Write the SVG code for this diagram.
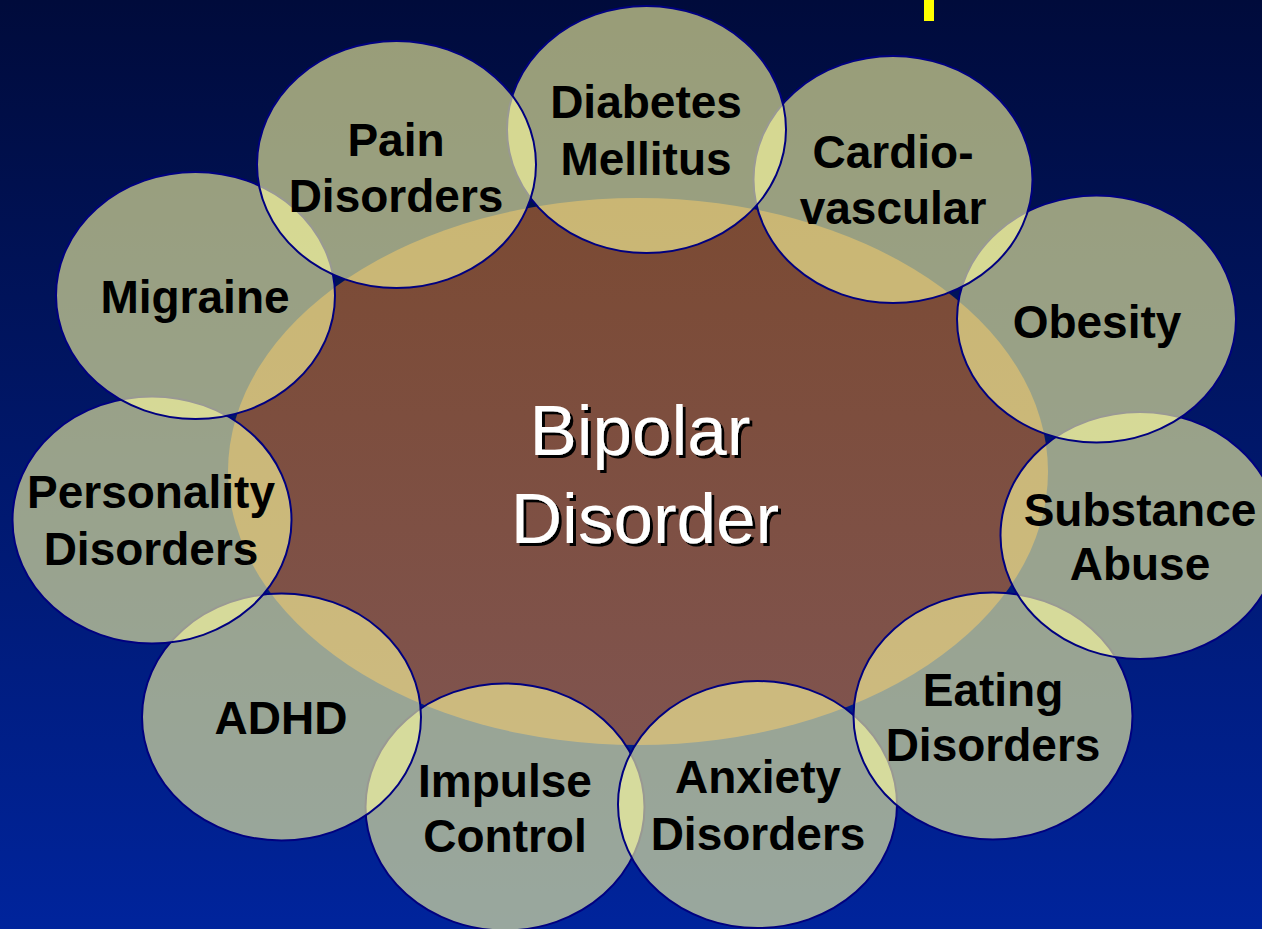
<svg xmlns="http://www.w3.org/2000/svg" width="1262" height="929" viewBox="0 0 1262 929">
<defs>
<linearGradient id="bg" x1="0" y1="0" x2="0" y2="1">
<stop offset="0" stop-color="#000b3b"/>
<stop offset="1" stop-color="#00249c"/>
</linearGradient>
<linearGradient id="core" x1="0" y1="0" x2="0" y2="1">
<stop offset="0" stop-color="#7b4a33"/>
<stop offset="1" stop-color="#80544f"/>
</linearGradient>
<filter id="shadow" x="-10%" y="-20%" width="120%" height="140%">
<feDropShadow dx="3" dy="3" stdDeviation="0.4" flood-color="#000" flood-opacity="1"/>
</filter>
<style>
.sat{fill:#ffffa0;fill-opacity:0.6;stroke:#000080;stroke-width:2}
.lbl{font-family:"Liberation Sans",Arial,sans-serif;font-weight:bold;font-size:46px;fill:#000;text-anchor:middle}
.big{font-family:"Liberation Sans",Arial,sans-serif;font-size:71px;text-anchor:middle;fill:#fff;filter:url(#shadow)}
</style>
</defs>
<rect x="0" y="0" width="1262" height="929" fill="url(#bg)"/>
<rect x="924" y="0" width="10" height="21" fill="#ffff00"/>
<g id="bipolar">
<ellipse cx="638" cy="471.5" rx="410" ry="273.5" fill="url(#core)"/>
</g>
<g id="impulse"><ellipse class="sat" cx="505" cy="807" rx="139.5" ry="123.5"/></g>
<g id="anxiety"><ellipse class="sat" cx="757.5" cy="804.5" rx="139.5" ry="123.5"/></g>
<g id="eating"><ellipse class="sat" cx="993" cy="716" rx="139.5" ry="123.5"/></g>
<g id="substance"><ellipse class="sat" cx="1140" cy="535.5" rx="139.5" ry="123.5"/></g>
<g id="obesity"><ellipse class="sat" cx="1096.5" cy="319" rx="139.5" ry="123.5"/></g>
<g id="cardio"><ellipse class="sat" cx="893" cy="179.5" rx="139.5" ry="123.5"/></g>
<g id="diabetes"><ellipse class="sat" cx="646.5" cy="129.5" rx="139.5" ry="123.5"/></g>
<g id="adhd"><ellipse class="sat" cx="281.5" cy="717" rx="139.5" ry="123.5"/></g>
<g id="personality"><ellipse class="sat" cx="152" cy="520" rx="139.5" ry="123.5"/></g>
<g id="migraine"><ellipse class="sat" cx="195.5" cy="295.5" rx="139.5" ry="123.5"/></g>
<g id="pain"><ellipse class="sat" cx="396.5" cy="164.5" rx="139.5" ry="123.5"/></g>
<g id="labels">
<text class="lbl" x="396" y="156">Pain</text>
<text class="lbl" x="396" y="212">Disorders</text>
<text class="lbl" x="646" y="118">Diabetes</text>
<text class="lbl" x="646" y="175">Mellitus</text>
<text class="lbl" x="893" y="168">Cardio-</text>
<text class="lbl" x="893" y="224">vascular</text>
<text class="lbl" x="1097" y="338">Obesity</text>
<text class="lbl" x="1140" y="526">Substance</text>
<text class="lbl" x="1140" y="580">Abuse</text>
<text class="lbl" x="993" y="706">Eating</text>
<text class="lbl" x="993" y="761">Disorders</text>
<text class="lbl" x="758" y="793">Anxiety</text>
<text class="lbl" x="758" y="850">Disorders</text>
<text class="lbl" x="505" y="797">Impulse</text>
<text class="lbl" x="505" y="852">Control</text>
<text class="lbl" x="281" y="734">ADHD</text>
<text class="lbl" x="151" y="508">Personality</text>
<text class="lbl" x="151" y="565">Disorders</text>
<text class="lbl" x="195" y="313">Migraine</text>
</g>
<g id="center-label">
<text class="big" x="640" y="455">Bipolar</text>
<text class="big" x="645" y="543">Disorder</text>
</g>
</svg>
